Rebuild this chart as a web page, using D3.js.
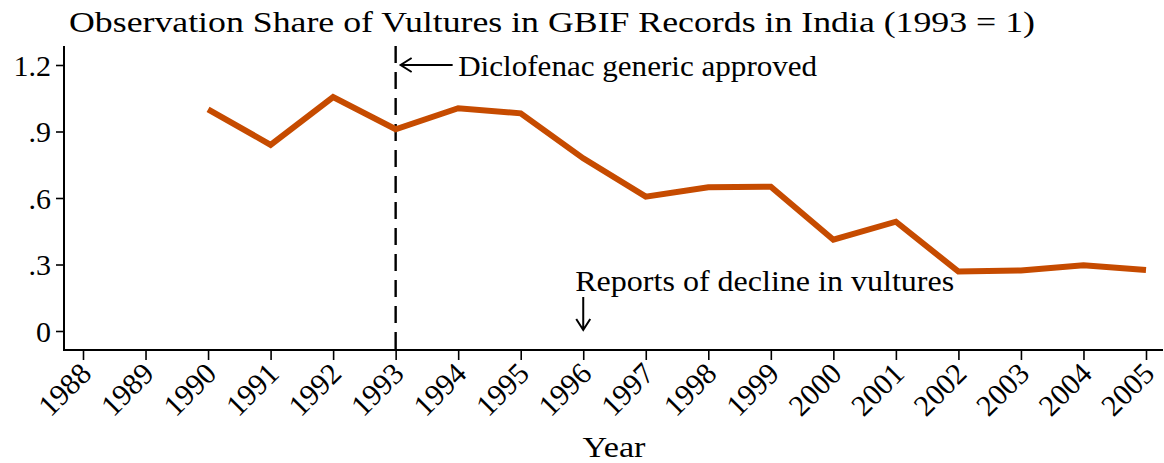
<!DOCTYPE html>
<html>
<head>
<meta charset="utf-8">
<script src="https://cdn.jsdelivr.net/npm/d3@7"></script>
<style>
  body { margin: 0; background: #fff; }
  svg { display: block; }
  text { font-family: "Liberation Serif", "DejaVu Serif", serif; fill: #000; }
</style>
</head>
<body>
<svg width="1164" height="463"></svg>
<script>
// data
var years = [1990, 1991, 1992, 1993, 1994, 1995, 1996, 1997, 1998, 1999, 2000, 2001, 2002, 2003, 2004, 2005];
var share = [1.0, 0.84, 1.055, 0.91, 1.005, 0.982, 0.779, 0.606, 0.648, 0.651, 0.412, 0.493, 0.268, 0.273, 0.297, 0.275];
var xTicks = [1988, 1989, 1990, 1991, 1992, 1993, 1994, 1995, 1996, 1997, 1998, 1999, 2000, 2001, 2002, 2003, 2004, 2005];
var yTicks = [0, 0.3, 0.6, 0.9, 1.2];
var yTickLabels = ["0", ".3", ".6", ".9", "1.2"];
var approvedYear = 1993;
var declineYear = 1996;

var svg = d3.select("svg"),
    width = +svg.attr("width"),
    height = +svg.attr("height");

// plot frame
var plotLeft = 64, plotRight = 1163, plotTop = 46, plotBottom = 350;

var x = d3.scaleLinear().domain([1988, 2005]).range([83, 1146]);
var y = d3.scaleLinear().domain([0, 1.2]).range([331, 65]);

// title
svg.append("text")
    .attr("x", 552)
    .attr("y", 32)
    .attr("text-anchor", "middle")
    .attr("textLength", 966)
    .attr("lengthAdjust", "spacingAndGlyphs")
    .style("font-size", "29px")
    .text("Observation Share of Vultures in GBIF Records in India (1993 = 1)");

// y axis
var yAxis = d3.axisLeft(y)
    .tickValues(yTicks)
    .tickFormat(function(d, i) { return yTickLabels[i]; })
    .tickSize(8)
    .tickPadding(5);

var gy = svg.append("g")
    .attr("transform", "translate(" + plotLeft + ",0)")
    .call(yAxis)
    .attr("font-family", null)
    .attr("font-size", null);
gy.select(".domain").remove();
gy.selectAll(".tick line").attr("stroke", "#000").attr("stroke-width", 1.6);
gy.selectAll(".tick text")
    .style("font-size", "30px")
    .attr("dy", "0.34em");

// x axis
var xAxis = d3.axisBottom(x)
    .tickValues(xTicks)
    .tickFormat(d3.format("d"))
    .tickSize(10);

var gx = svg.append("g")
    .attr("transform", "translate(0," + plotBottom + ")")
    .call(xAxis)
    .attr("font-family", null)
    .attr("font-size", null);
gx.select(".domain").remove();
gx.selectAll(".tick line").attr("stroke", "#000").attr("stroke-width", 1.6);
gx.selectAll(".tick text")
    .style("font-size", "30px")
    .attr("text-anchor", "end")
    .attr("x", 3)
    .attr("y", 0)
    .attr("dy", "0.35em")
    .attr("transform", "translate(0,20) rotate(-45)");

// axis lines
svg.append("line")
    .attr("x1", plotLeft).attr("x2", plotLeft)
    .attr("y1", plotTop).attr("y2", plotBottom)
    .attr("stroke", "#000").attr("stroke-width", 2);
svg.append("line")
    .attr("x1", plotLeft - 1).attr("x2", plotRight)
    .attr("y1", plotBottom).attr("y2", plotBottom)
    .attr("stroke", "#000").attr("stroke-width", 2);

// x title
svg.append("text")
    .attr("x", 614)
    .attr("y", 457)
    .attr("text-anchor", "middle")
    .attr("textLength", 63)
    .attr("lengthAdjust", "spacingAndGlyphs")
    .style("font-size", "30px")
    .text("Year");

// dashed reference line
svg.append("line")
    .attr("x1", x(approvedYear)).attr("x2", x(approvedYear))
    .attr("y1", plotTop).attr("y2", plotBottom)
    .attr("stroke", "#000")
    .attr("stroke-width", 2.4)
    .attr("stroke-dasharray", "17,9");

// series
var line = d3.line()
    .x(function(d, i) { return x(years[i]); })
    .y(function(d) { return y(d); });

svg.append("path")
    .datum(share)
    .attr("fill", "none")
    .attr("stroke", "#c64b00")
    .attr("stroke-width", 6)
    .attr("stroke-linejoin", "miter")
    .attr("d", line);

// annotations
var arrowStroke = 2;
var ax = x(approvedYear) + 5, ay = y(1.2);
svg.append("path")
    .attr("d", "M" + (ax + 52) + "," + ay + "H" + ax +
               "M" + (ax + 11) + "," + (ay - 7) + "L" + ax + "," + ay + "L" + (ax + 11) + "," + (ay + 7))
    .attr("fill", "none").attr("stroke", "#000").attr("stroke-width", arrowStroke);

svg.append("text")
    .attr("x", x(approvedYear + 1))
    .attr("y", ay + 11)
    .attr("textLength", 359)
    .attr("lengthAdjust", "spacingAndGlyphs")
    .style("font-size", "29px")
    .text("Diclofenac generic approved");

var dx = x(declineYear), dy = y(0) - 1;
svg.append("path")
    .attr("d", "M" + dx + "," + (dy - 33) + "V" + dy +
               "M" + (dx - 7) + "," + (dy - 11) + "L" + dx + "," + dy + "L" + (dx + 7) + "," + (dy - 11))
    .attr("fill", "none").attr("stroke", "#000").attr("stroke-width", arrowStroke);

svg.append("text")
    .attr("x", dx - 8)
    .attr("y", y(0.18))
    .attr("textLength", 379)
    .attr("lengthAdjust", "spacingAndGlyphs")
    .style("font-size", "29px")
    .text("Reports of decline in vultures");
</script>
</body>
</html>
